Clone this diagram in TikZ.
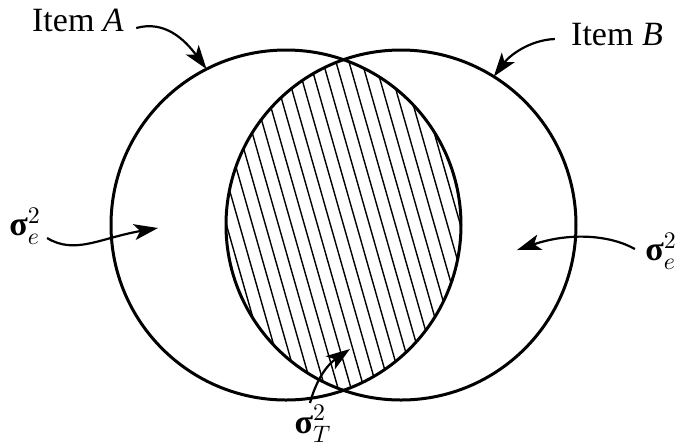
\documentclass[tikz,border=0pt]{standalone}
\usepackage{fix-cm}
\usepackage{amsmath}
\usepackage{fontspec}
\setmainfont{Liberation Serif}
\usetikzlibrary{arrows.meta}
\newcommand{\bsig}{\textbf{σ}}
\begin{document}
\begin{tikzpicture}[x=0.5pt,y=-0.5pt,
  ring/.style={circle,draw,line width=1.5pt,minimum size=175pt,inner sep=0pt,outer sep=0pt},
  hatchline/.style={line width=0.7pt},
  pointer/.style={line width=1.1pt,-{Stealth[length=12pt,width=8pt,inset=3pt]}},
  lab/.style={font=\fontsize{17}{20}\selectfont,inner sep=0pt}]
\useasboundingbox (0,0) rectangle (676,447);
% hatching of the overlap
\begin{scope}
  \clip (286,225) circle[radius=87.5pt];
  \clip (401,225) circle[radius=87.5pt];
  \foreach \i in {-22,...,22}{
    \draw[hatchline] ({343.5+13*\i-57},25) -- ({343.5+13*\i+57},425);
  }
\end{scope}
% the two items
\node[ring] (A) at (286,225) {};
\node[ring] (B) at (401,225) {};
% labels
\node[lab,anchor=base] (itemA) at (78,31) {Item \textit{A}};
\node[lab,anchor=base] (itemB) at (617,45) {Item \textit{B}};
\node[lab] (sigL) at (25,226) {\bsig$^{2}_{e}$};
\node[lab] (sigR) at (661,251) {\bsig$^{2}_{e}$};
\node[lab] (sigT) at (313,424) {\bsig$^{2}_{T}$};
\coordinate (inA) at (158,228);
\coordinate (inB) at (517,250);
\coordinate (inT) at (350,349);
% pointers
\draw[pointer] (itemA.base east) ++(12,-3) .. controls (165,20) and (185,40) .. (A.117);
\draw[pointer] (itemB.base west) ++(-16,-6) .. controls (530,40) and (510,55) .. (B.58);
\draw[pointer] (sigL.east) ++(6,12) .. controls (75,255) and (100,238) .. (inA);
\draw[pointer] (sigR.west) ++(-10,-2) .. controls (610,235) and (570,232) .. (inB);
\draw[pointer] (sigT.north) ++(-3,-2) .. controls (312,395) and (320,370) .. (inT);
\end{tikzpicture}
\end{document}
